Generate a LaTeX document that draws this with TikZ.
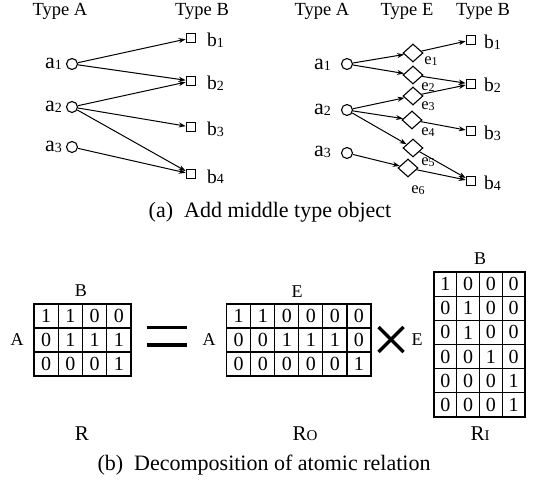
\documentclass[tikz,border=0pt]{standalone}
\usepackage{fontspec}
\setmainfont{Liberation Serif}
\usetikzlibrary{shapes.geometric,arrows.meta}
\newcommand\lbl[4]{{\fontsize{#1}{#1}\selectfont #2}{\fontsize{#3}{#3}\selectfont\raisebox{-0.8pt}{#4}}}
\begin{document}
\begin{tikzpicture}[x=1pt,y=-1pt,
  typ/.style={font=\fontsize{18.5}{20}\selectfont, anchor=base, inner sep=0},
  alabel/.style={anchor=base east, inner sep=0},
  blabel/.style={anchor=base west, inner sep=0},
  elabel/.style={anchor=center, inner sep=0},
  circ/.style={circle, draw, line width=1.1pt, minimum size=11pt, inner sep=0},
  sq/.style={rectangle, draw, line width=1.1pt, minimum size=9.5pt, inner sep=0},
  dia/.style={diamond, draw, line width=1.1pt, minimum width=20pt, minimum height=18pt, inner sep=0},
  arr/.style={-{Stealth[length=7pt,width=5pt]}, line width=1pt},
  captext/.style={font=\fontsize{22}{24}\selectfont, anchor=base, inner sep=0},
  mlab/.style={font=\fontsize{18}{19}\selectfont, inner sep=0},
  rlab/.style={font=\fontsize{21}{22}\selectfont, anchor=base, inner sep=0},
  cellR/.style={draw, line width=1.1pt, minimum width=24.25pt, minimum height=24pt, inner sep=0, font=\fontsize{20}{20}\selectfont},
  cellO/.style={draw, line width=1.1pt, minimum width=24.05pt, minimum height=24pt, inner sep=0, font=\fontsize{20}{20}\selectfont},
  cellI/.style={draw, line width=1.1pt, minimum width=22.75pt, minimum height=24.17pt, inner sep=0, font=\fontsize{20}{20}\selectfont},
  bar/.style={line width=3.4pt}
]
\useasboundingbox (0,0) rectangle (533,484);

% ---------- (a) left graph ----------
\node[typ] (tA1) at (60,16) {Type A};
\node[typ] (tB1) at (202,16) {Type B};
\node[circ] (a1) at (72,64) {};
\node[circ] (a2) at (72,107) {};
\node[circ] (a3) at (72,147) {};
\node[alabel] (la1) at (62,68.5) {\lbl{22}{a}{14}{1}};
\node[alabel] (la2) at (62,111.5) {\lbl{22}{a}{14}{2}};
\node[alabel] (la3) at (62,151.5) {\lbl{22}{a}{14}{3}};
\node[sq] (b1) at (191,38) {};
\node[sq] (b2) at (191,81) {};
\node[sq] (b3) at (191,127) {};
\node[sq] (b4) at (191,174) {};
\node[blabel] (lb1) at (207,47) {\lbl{19.5}{b}{14}{1}};
\node[blabel] (lb2) at (207,89.5) {\lbl{19.5}{b}{14}{2}};
\node[blabel] (lb3) at (207,135.5) {\lbl{19.5}{b}{14}{3}};
\node[blabel] (lb4) at (207,183) {\lbl{19.5}{b}{14}{4}};
\draw[arr] (a1) -- (b1);
\draw[arr] (a1) -- (b2);
\draw[arr] (a2) -- (b2);
\draw[arr] (a2) -- (b3);
\draw[arr] (a2) -- (b4);
\draw[arr] (a3) -- (b4);

% ---------- (a) right graph ----------
\node[typ] (tA2) at (322,16) {Type A};
\node[typ] (tE2) at (407,16) {Type E};
\node[typ] (tB2) at (483,16) {Type B};
\node[circ] (c1) at (347,64) {};
\node[circ] (c2) at (347,110) {};
\node[circ] (c3) at (347,153) {};
\node[alabel] (lc1) at (331,70) {\lbl{22}{a}{14}{1}};
\node[alabel] (lc2) at (331,115) {\lbl{22}{a}{14}{2}};
\node[alabel] (lc3) at (331,157) {\lbl{22}{a}{14}{3}};
\node[dia] (e1) at (413,53) {};
\node[dia] (e2) at (413,75) {};
\node[dia] (e3) at (413,96) {};
\node[dia] (e4) at (412,120) {};
\node[dia] (e5) at (413,148) {};
\node[dia] (e6) at (408,168) {};
\node[elabel] (le1) at (431,61) {\lbl{16.5}{e}{12}{1}};
\node[elabel] (le2) at (428,87) {\lbl{16.5}{e}{12}{2}};
\node[elabel] (le3) at (428,106) {\lbl{16.5}{e}{12}{3}};
\node[elabel] (le4) at (428,132) {\lbl{16.5}{e}{12}{4}};
\node[elabel] (le5) at (428,162) {\lbl{16.5}{e}{12}{5}};
\node[elabel] (le6) at (418,190) {\lbl{16.5}{e}{12}{6}};
\node[sq] (d1) at (471,40) {};
\node[sq] (d2) at (471,84) {};
\node[sq] (d3) at (471,131) {};
\node[sq] (d4) at (471,181) {};
\node[blabel] (ld1) at (484,48.5) {\lbl{19.5}{b}{14}{1}};
\node[blabel] (ld2) at (484,92) {\lbl{19.5}{b}{14}{2}};
\node[blabel] (ld3) at (484,139.5) {\lbl{19.5}{b}{14}{3}};
\node[blabel] (ld4) at (484,189.5) {\lbl{19.5}{b}{14}{4}};
\draw[arr] (c1) -- (e1);
\draw[arr] (c1) -- (e2);
\draw[arr] (c2) -- (e3);
\draw[arr] (c2) -- (e4);
\draw[arr] (c2) -- (e5);
\draw[arr] (c3) -- (e6);
\draw[arr] (e1) -- (d1);
\draw[arr] (e2) -- (d2);
\draw[arr] (e3) -- (d2);
\draw[arr] (e4) -- (d3);
\draw[arr] (e5) -- (d4);
\draw[arr] (e6) -- (d4);

\node[captext] (capa) at (270,217) {(a)\ \ Add middle type object};

% ---------- (b) matrices ----------
\foreach \row [count=\r] in {{1,1,0,0},{0,1,1,1},{0,0,0,1}} {
  \foreach \v [count=\c] in \row {
    \node[cellR] (R-\r-\c) at ({34+(\c-0.5)*24.25},{304+(\r-0.5)*24}) {\v};
  }
}
\foreach \row [count=\r] in {{1,1,0,0,0,0},{0,0,1,1,1,0},{0,0,0,0,0,1}} {
  \foreach \v [count=\c] in \row {
    \node[cellO] (O-\r-\c) at ({226.7+(\c-0.5)*24.05},{304+(\r-0.5)*24}) {\v};
  }
}
\foreach \row [count=\r] in {{1,0,0,0},{0,1,0,0},{0,1,0,0},{0,0,1,0},{0,0,0,1},{0,0,0,1}} {
  \foreach \v [count=\c] in \row {
    \node[cellI] (I-\r-\c) at ({434+(\c-0.5)*22.75},{272+(\r-0.5)*24.17}) {\v};
  }
}
\node[mlab] (mB1) at (81,291) {B};
\node[mlab] (mA1) at (17,340) {A};
\node[mlab] (mE2) at (297,292) {E};
\node[mlab] (mA2) at (209,340) {A};
\node[mlab] (mE3) at (417,340) {E};
\node[mlab] (mB3) at (480,259) {B};

\draw[bar] (146.7,327.7) -- (186.7,327.7);
\draw[bar] (146.7,345) -- (186.7,345);
\draw[line width=3.2pt] (378.5,327) -- (403.5,352);
\draw[line width=3.2pt] (378.5,352) -- (403.5,327);

\node[rlab] (nR) at (82,440) {R};
\node[rlab] (nRO) at (305,440) {R{\fontsize{15}{15}\selectfont O}};
\node[rlab] (nRI) at (480,440) {R{\fontsize{15}{15}\selectfont I}};

\node[captext] (capb) at (264,470) {(b)\ \ Decomposition of atomic relation};
\end{tikzpicture}
\end{document}
